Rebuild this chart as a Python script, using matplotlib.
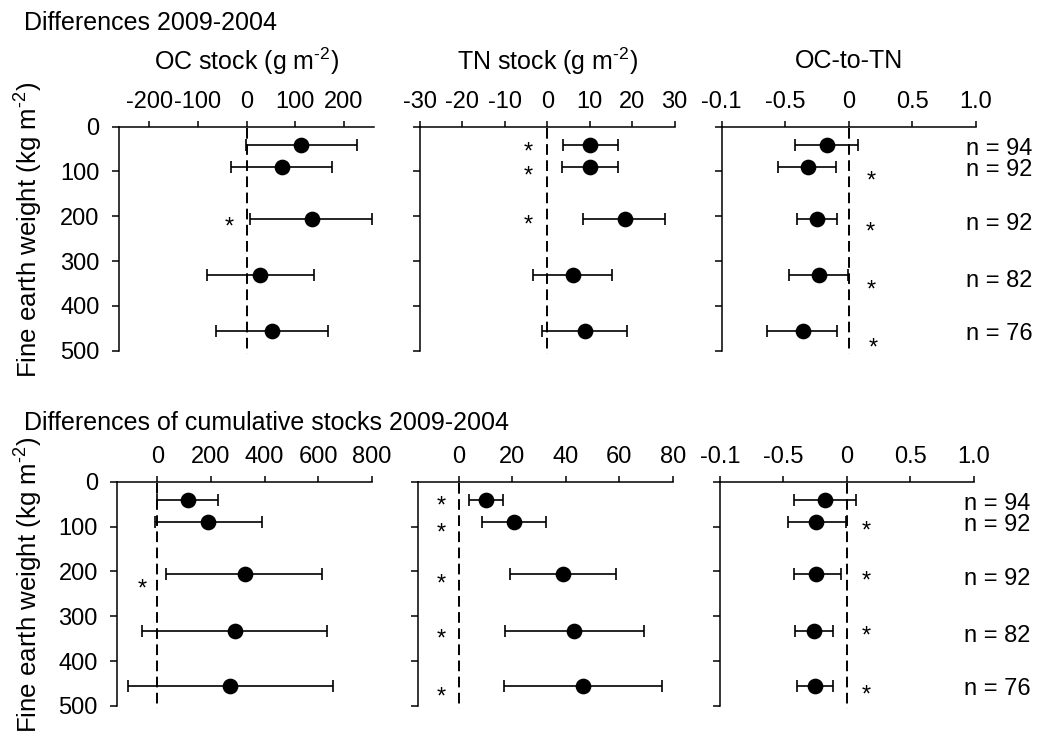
import matplotlib
matplotlib.use("Agg")
import matplotlib.pyplot as plt
import matplotlib.transforms as mtransforms

plt.rcParams['font.family'] = ['Liberation Sans', 'DejaVu Sans']
plt.rcParams['mathtext.fontset'] = 'custom'
plt.rcParams['mathtext.rm'] = 'Liberation Sans'
plt.rcParams['mathtext.default'] = 'regular'

# ---------------- data ----------------
depth = [41, 89, 206, 332, 456]          # fine earth weight (kg m-2), layer positions
n_labels = ["n = 94", "n = 92", "n = 92", "n = 82", "n = 76"]
n_y = [45, 91, 212, 338, 457]

# Differences 2009-2004
oc_mean = [111, 73, 134, 28, 53]
oc_lo = [-2, -31, 8, -82, -62]
oc_hi = [227, 176, 258, 138, 168]
oc_star_x = [-36]
oc_star_y = [208]

tn_mean = [10.1, 10.1, 18.3, 6.0, 8.9]
tn_lo = [3.8, 3.5, 8.5, -3.4, -1.2]
tn_hi = [16.6, 16.6, 27.8, 15.3, 18.8]
tn_star_x = [-4.5, -4.5, -4.5]
tn_star_y = [41, 93, 204]

ratio_mean = [-0.17, -0.32, -0.25, -0.23, -0.36]
ratio_lo = [-0.42, -0.56, -0.41, -0.47, -0.64]
ratio_hi = [0.07, -0.10, -0.09, -0.005, -0.09]
ratio_star_x = [0.18, 0.17, 0.18, 0.19]
ratio_star_y = [106, 220, 348, 479]

# Differences of cumulative stocks 2009-2004
coc_mean = [115, 190, 327, 289, 272]
coc_lo = [-2, -8, 31, -56, -110]
coc_hi = [227, 390, 613, 631, 654]
coc_star_x = [-58]
coc_star_y = [224]

ctn_mean = [10.1, 20.5, 39.0, 43.2, 46.6]
ctn_lo = [3.7, 8.5, 19.2, 17.2, 17.0]
ctn_hi = [16.6, 32.5, 58.6, 69.2, 76.1]
ctn_star_x = [-6.7, -6.7, -6.7, -6.7, -6.7]
ctn_star_y = [39, 98, 212, 334, 464]

cratio_mean = [-0.17, -0.24, -0.24, -0.26, -0.255]
cratio_lo = [-0.42, -0.465, -0.42, -0.41, -0.39]
cratio_hi = [0.07, -0.01, -0.05, -0.11, -0.11]
cratio_star_x = [0.15, 0.15, 0.15, 0.15]
cratio_star_y = [93, 206, 328, 460]

oc_ticks = [-200, -100, 0, 100, 200]
oc_ticklabels = ["-200", "-100", "0", "100", "200"]
tn_ticks = [-30, -20, -10, 0, 10, 20, 30]
tn_ticklabels = ["-30", "-20", "-10", "0", "10", "20", "30"]
ratio_ticks = [-1, -0.5, 0, 0.5, 1]
ratio_ticklabels = ["-0.1", "-0.5", "0", "0.5", "1.0"]
coc_ticks = [0, 200, 400, 600, 800]
coc_ticklabels = ["0", "200", "400", "600", "800"]
ctn_ticks = [0, 20, 40, 60, 80]
ctn_ticklabels = ["0", "20", "40", "60", "80"]
y_ticks = [0, 100, 200, 300, 400, 500]
y_ticklabels = ["0", "100", "200", "300", "400", "500"]

# ---------------- figure ----------------
W, H = 1037, 733
fig = plt.figure(figsize=(W / 100, H / 100), dpi=100)

FS = 17
TFS = 18
LW = 1.1


def px_axes(x0, x1, y0, y1):
    return fig.add_axes([x0 / W, 1 - y1 / H, (x1 - x0) / W, (y1 - y0) / H])


def panel(ax, mean, lo, hi, xlim, ticks, ticklabels, sx, sy, ylabels=False, nlab=False):
    ax.set_xlim(*xlim)
    ax.set_ylim(500, 0)
    for s in ['right', 'bottom']:
        ax.spines[s].set_visible(False)
    for s in ['top', 'left']:
        ax.spines[s].set_linewidth(LW)
    ax.xaxis.tick_top()
    ax.set_xticks(ticks)
    ax.set_xticklabels(ticklabels)
    ax.set_yticks(y_ticks)
    if ylabels:
        ax.set_yticklabels(y_ticklabels)
    else:
        ax.set_yticklabels([])
    ax.tick_params(axis='x', direction='out', length=4, width=LW, labelsize=FS, pad=6)
    ax.tick_params(axis='y', direction='out', length=5, width=LW, labelsize=FS, pad=9)
    ax.patch.set_visible(False)
    # zero line
    ax.plot([0, 0], [3, 507], color='black', lw=1.4, dashes=(5.5, 2.8), clip_on=False)
    xerr = [[m - l for m, l in zip(mean, lo)], [h - m for m, h in zip(mean, hi)]]
    ax.errorbar(mean, depth, xerr=xerr, fmt='o', color='black', ms=10.3,
                elinewidth=1.2, capsize=4.5, capthick=1.2, clip_on=False, zorder=3)
    off = mtransforms.offset_copy(ax.transData, fig=fig, y=-0.58 * FS, units='points')
    for x, y in zip(sx, sy):
        ax.text(x, y, "*", fontsize=FS, ha='center', va='baseline', transform=off)
    if nlab:
        offn = mtransforms.offset_copy(ax.transData, fig=fig, y=-0.36 * FS, units='points')
        for t, y in zip(n_labels, n_y):
            ax.text(0.92, y, t, fontsize=FS, ha='left', va='baseline', transform=offn,
                    clip_on=False)


# top row
a1 = px_axes(119, 374, 126.7, 350.7)
a2 = px_axes(420, 674.7, 126.7, 350.7)
a3 = px_axes(721.7, 975.7, 126.7, 350.7)
panel(a1, oc_mean, oc_lo, oc_hi, (-262, 262), oc_ticks, oc_ticklabels, oc_star_x, oc_star_y, ylabels=True)
panel(a2, tn_mean, tn_lo, tn_hi, (-30, 30), tn_ticks, tn_ticklabels, tn_star_x, tn_star_y)
panel(a3, ratio_mean, ratio_lo, ratio_hi, (-1, 1), ratio_ticks, ratio_ticklabels, ratio_star_x, ratio_star_y, nlab=True)

# bottom row
b1 = px_axes(117.3, 372, 481.7, 706)
b2 = px_axes(418.3, 672.7, 481.7, 706)
b3 = px_axes(720, 973.7, 481.7, 706)
panel(b1, coc_mean, coc_lo, coc_hi, (-149, 800), coc_ticks, coc_ticklabels, coc_star_x, coc_star_y, ylabels=True)
panel(b2, ctn_mean, ctn_lo, ctn_hi, (-15.2, 80), ctn_ticks, ctn_ticklabels, ctn_star_x, ctn_star_y)
panel(b3, cratio_mean, cratio_lo, cratio_hi, (-1, 1), ratio_ticks, ratio_ticklabels, cratio_star_x, cratio_star_y, nlab=True)

# panel titles (top row)
for ax, t in [(a1, r"OC stock (g m$^{\text{-2}}$)"), (a2, r"TN stock (g m$^{\text{-2}}$)"), (a3, "OC-to-TN")]:
    pos = ax.get_position()
    fig.text((pos.x0 + pos.x1) / 2, 1 - 61 / H, t, fontsize=TFS, ha='center', va='center')

# section titles
fig.text(24 / W, 1 - 22.5 / H, "Differences 2009-2004", fontsize=TFS, ha='left', va='center')
fig.text(24 / W, 1 - 423.5 / H, "Differences of cumulative stocks 2009-2004", fontsize=TFS,
         ha='left', va='center')

# y labels
ylab = r"Fine earth weight (kg m$^{\text{-2}}$)"
fig.text(29 / W, 1 - 230 / H, ylab, fontsize=18.6, rotation=90, ha='center', va='center')
fig.text(29 / W, 1 - 585 / H, ylab, fontsize=18.6, rotation=90, ha='center', va='center')

fig.savefig("out.png", dpi=100)
